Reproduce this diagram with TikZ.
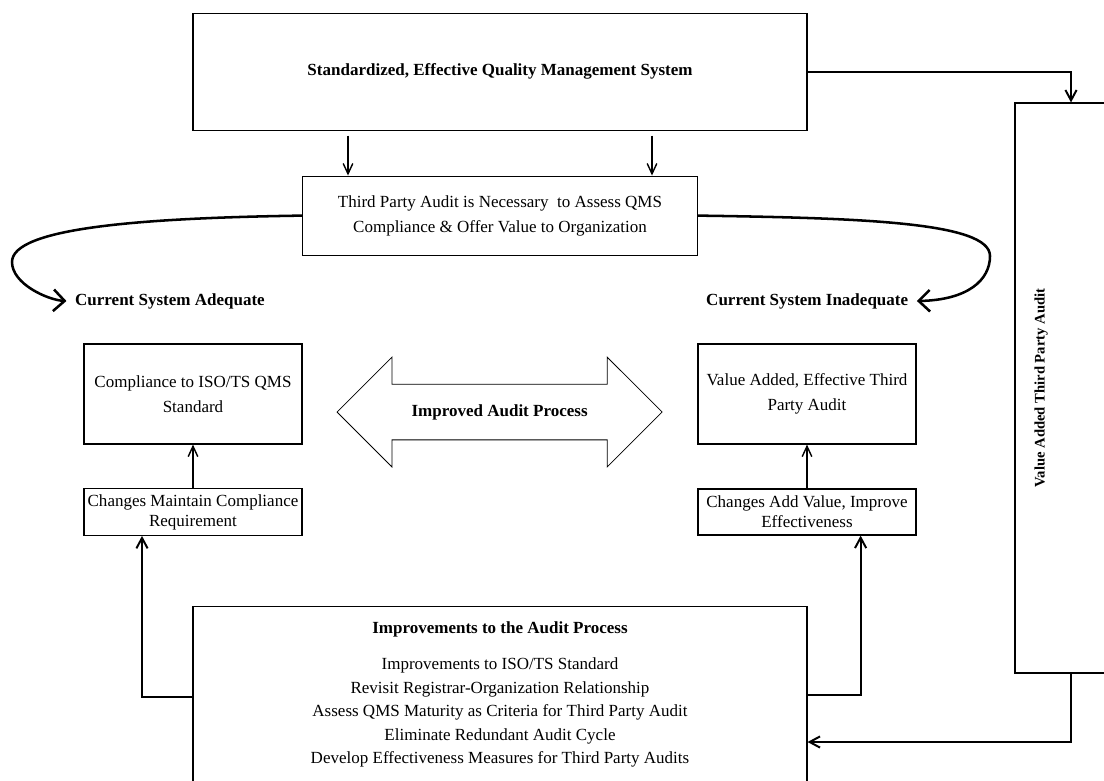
\documentclass[tikz,border=0pt]{standalone}
\usepackage{fontspec}
\setmainfont{Liberation Serif}
\usetikzlibrary{positioning,arrows.meta,shapes.arrows,calc}
\newcommand\fs{\fontsize{12.1}{17.8}\selectfont}
\newcommand\fss{\fontsize{12.1}{14.2}\selectfont}
\newcommand\fsi{\fontsize{12.1}{16.7}\selectfont}
\tikzset{
  box/.style  = {draw, line width=0.8pt, align=center, inner sep=4pt},
  sbox/.style = {box, font=\fss, inner xsep=1pt, minimum width=5.45cm, minimum height=1.15cm},
  ar/.style   = {-{Straight Barb[length=2.6mm,width=2.4mm]}, line width=1pt},
  elb/.style  = {-{Straight Barb[length=2.6mm,width=2.8mm]}, line width=1.4pt},
  cur/.style  = {-{Straight Barb[length=2.8mm,width=5.4mm]}, line width=1.8pt},
  lbl/.style  = {font=\fs\bfseries, inner sep=0pt},
  dbl/.style  = {double arrow, draw, line width=0.6pt,
                 double arrow head extend=0.675cm, minimum height=8.125cm,
                 text height=9pt, text depth=3pt, inner ysep=13.5pt,
                 font=\fs\bfseries},
}
\begin{document}
\begin{tikzpicture}[font=\fs]
\clip (0,0) rectangle (27.6,-19.5);

% top and second row
\node[box, font=\fs\bfseries, minimum width=15.35cm, minimum height=2.925cm] (top) at (12.5,-1.79)
     {Standardized, Effective Quality Management System};
\node[box, minimum width=9.875cm, minimum height=1.975cm] (third) at (12.5,-5.39)
     {Third Party Audit is Necessary\ \ to Assess QMS\\Compliance \& Offer Value to Organization};

\node[lbl] (lblL) at (4.25,-7.525) {Current System Adequate};
\node[lbl] (lblR) at (20.18,-7.525) {Current System Inadequate};

% middle boxes
\node[box, minimum width=5.45cm, minimum height=2.5cm] (compl) at (4.825,-9.85)
     {Compliance to ISO/TS QMS\\Standard};
\node[box, minimum width=5.45cm, minimum height=2.5cm] (valR) at (20.175,-9.85)
     {Value Added, Effective Third\\Party Audit};
\node[dbl] (dbl) at (12.49,-10.3) {Improved Audit Process};

\node[sbox] (chgL) at (4.825,-12.8) {Changes Maintain Compliance\\Requirement};
\node[sbox] (chgR) at (20.175,-12.8) {Changes Add Value, Improve\\Effectiveness};

% bottom box
\node[box, font=\fsi, anchor=north, minimum width=15.35cm, inner ysep=11pt, text depth=2cm] (improv) at (12.5,-15.15)
     {\textbf{Improvements to the Audit Process}\\[9pt]
      Improvements to ISO/TS Standard\\
      Revisit Registrar-Organization Relationship\\
      Assess QMS Maturity as Criteria for Third Party Audit\\
      Eliminate Redundant Audit Cycle\\
      Develop Effectiveness Measures for Third Party Audits};

% right tall box
\node[draw, line width=0.8pt, minimum width=2.8cm, minimum height=14.25cm] (vatpa) at (26.775,-9.7) {};
\node[lbl, font=\fontsize{10.4}{12}\selectfont\bfseries, rotate=90] (vatxt) at (26.025,-9.7)
     {Value Added Third Party Audit};

\coordinate (bendL) at (0.3,-6.55);
\coordinate (bendR) at (24.75,-6.4);

\draw[ar] ($(top.south)+(-3.8,-0.125)$) coordinate (a1) -- (a1 |- third.north);
\draw[ar] ($(top.south)+(3.8,-0.125)$) coordinate (a2) -- (a2 |- third.north);

\draw[cur] (third.west) .. controls (3.5,-5.45) and (0.3,-5.7) .. (bendL)
           .. controls (0.3,-7.1) and (1.2,-7.5) .. ([xshift=-6pt]lblL.west);
\draw[cur] (third.east) .. controls (21.5,-5.45) and (24.75,-5.55) .. (bendR)
           .. controls (24.75,-7.0) and (24.2,-7.5) .. ([xshift=6pt]lblR.east);

\draw[ar] (chgL) -- (compl);
\draw[ar] (chgR) -- (valR);

\draw[elb] ($(improv.north west)+(0,-2.275)$) -| ($(chgL.south)+(-1.275,0)$);
\draw[elb] ($(improv.north east)+(0,-2.225)$) -| ($(chgR.south)+(1.34,0)$);
\draw[elb] (top.east) -| (vatpa.north);
\draw[elb] (vatpa.south) |- ($(improv.north east)+(0,-3.4)$);
\end{tikzpicture}
\end{document}
